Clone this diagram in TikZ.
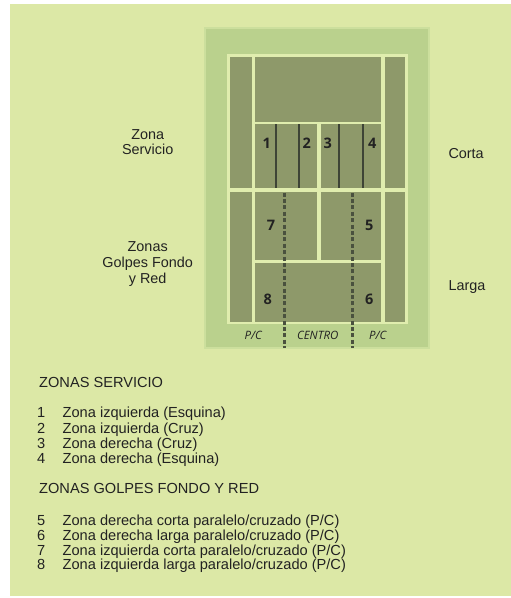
\documentclass[tikz,border=0pt]{standalone}
\usepackage{fontspec}
\setmainfont{Liberation Sans}
\newfontfamily\courtfont{Open Sans}
\definecolor{pagebg}{HTML}{DCE8A6}
\definecolor{outerbox}{HTML}{BAD18D}
\definecolor{outerrim}{HTML}{CCDF9D}
\definecolor{courtline}{HTML}{E0EDAE}
\definecolor{courtfill}{HTML}{8E996A}
\definecolor{darkline}{HTML}{3E4436}
\definecolor{txt}{HTML}{222222}
\tikzset{
  zone/.style={fill=courtfill, draw=none},
  divider/.style={draw=darkline, line width=1.6pt},
  dashdiv/.style={draw=darkline!85!courtfill, line width=2.6pt, dash pattern=on 4pt off 2.4pt},
  num/.style={font=\courtfont\bfseries\fontsize{14.5}{15}\selectfont, text=txt, inner sep=0pt, anchor=base},
  lab/.style={font=\courtfont\itshape\fontsize{11.5}{13}\selectfont, text=txt, inner sep=0pt, anchor=base},
  side/.style={font=\fontsize{14.4}{16}\selectfont, text=txt, inner sep=0pt, anchor=base},
  item/.style={font=\fontsize{14.6}{15}\selectfont, text=txt, inner sep=0pt, anchor=base west},
}
\begin{document}
\begin{tikzpicture}[x=1pt,y=-1pt]
\useasboundingbox (0,0) rectangle (511,598);
\fill[white] (0,0) rectangle (511,598);
\fill[pagebg] (10,4) rectangle (511,596);
% outer box
\filldraw[fill=outerbox, draw=outerrim, line width=2pt] (205,28) rectangle (429,348);
% court lines background
\fill[courtline] (226.7,54) rectangle (408,324.3);
% zones
\path[zone] (230,57.3) rectangle (251.7,188.3);
\path[zone] (385,57.3) rectangle (404.7,188.3);
\path[zone] (230,192.3) rectangle (251.7,321.7);
\path[zone] (385,192.3) rectangle (404.7,321.7);
\path[zone] (255,57.3) rectangle (381,121.7);
\path[zone] (255,124.3) rectangle (317.3,188.3);
\path[zone] (320.7,124.3) rectangle (381,188.3);
\path[zone] (255,192.3) rectangle (317.3,260);
\path[zone] (320.7,192.3) rectangle (381,260);
\path[zone] (255,263.3) rectangle (381,321.7);
% service dividers
\coordinate (d1a) at (276,124.3); \coordinate (d1b) at (276,188.3);
\coordinate (d2a) at (298.7,124.3); \coordinate (d2b) at (298.7,188.3);
\coordinate (d3a) at (338.7,124.3); \coordinate (d3b) at (338.7,188.3);
\coordinate (d4a) at (362.7,124.3); \coordinate (d4b) at (362.7,188.3);
\draw[divider] (d1a) -- (d1b);
\draw[divider] (d2a) -- (d2b);
\draw[divider] (d3a) -- (d3b);
\draw[divider] (d4a) -- (d4b);
% dashed dividers
\coordinate (e1a) at (284.3,192.5); \coordinate (e1b) at (284.3,348);
\coordinate (e2a) at (352.3,192.5); \coordinate (e2b) at (352.3,348);
\draw[dashdiv] (e1a) -- (e1b);
\draw[dashdiv] (e2a) -- (e2b);
% court numbers
\node[num] (n1) at (266.7,148.5) {1};
\node[num] (n2) at (306.7,148.5) {2};
\node[num] (n3) at (327.7,148.5) {3};
\node[num] (n4) at (372.3,148.5) {4};
\node[num] (n7) at (271,230.5) {7};
\node[num] (n5) at (369.3,230.5) {5};
\node[num] (n8) at (267.7,304.5) {8};
\node[num] (n6) at (369.3,304.5) {6};
% bottom labels
\node[lab] (pc1) at (253.3,339.3) {P/C};
\node[lab] (cen) at (317.7,339.3) {CENTRO};
\node[lab] (pc2) at (377.7,339.3) {P/C};
% side labels
\node[side] (zs1) at (147.7,139.3) {Zona};
\node[side] (zs2) at (147.7,154.3) {Servicio};
\node[side] (zg1) at (147.7,251.7) {Zonas};
\node[side] (zg2) at (147.7,267.7) {Golpes Fondo};
\node[side] (zg3) at (147.7,283.3) {y Red};
\node[side, anchor=base west] (corta) at (448.3,158.3) {Corta};
\node[side, anchor=base west] (larga) at (448.3,290.5) {Larga};
% list
\node[item] (h1) at (39,387.7) {ZONAS SERVICIO};
\node[item] (i1) at (37,417.7) {1};
\node[item] (t1) at (62.5,417.7) {Zona izquierda (Esquina)};
\node[item] (i2) at (37,433.3) {2};
\node[item] (t2) at (62.5,433.3) {Zona izquierda (Cruz)};
\node[item] (i3) at (37,448.3) {3};
\node[item] (t3) at (62.5,448.3) {Zona derecha (Cruz)};
\node[item] (i4) at (37,463.5) {4};
\node[item] (t4) at (62.5,463.5) {Zona derecha (Esquina)};
\node[item] (h2) at (39,493.3) {ZONAS GOLPES FONDO Y RED};
\node[item] (i5) at (37,525) {5};
\node[item] (t5) at (62.5,525) {Zona derecha corta paralelo/cruzado (P/C)};
\node[item] (i6) at (37,540.3) {6};
\node[item] (t6) at (62.5,540.3) {Zona derecha larga paralelo/cruzado (P/C)};
\node[item] (i7) at (37,555) {7};
\node[item] (t7) at (62.5,555) {Zona izquierda corta paralelo/cruzado (P/C)};
\node[item] (i8) at (37,569.3) {8};
\node[item] (t8) at (62.5,569.3) {Zona izquierda larga paralelo/cruzado (P/C)};
\end{tikzpicture}
\end{document}
